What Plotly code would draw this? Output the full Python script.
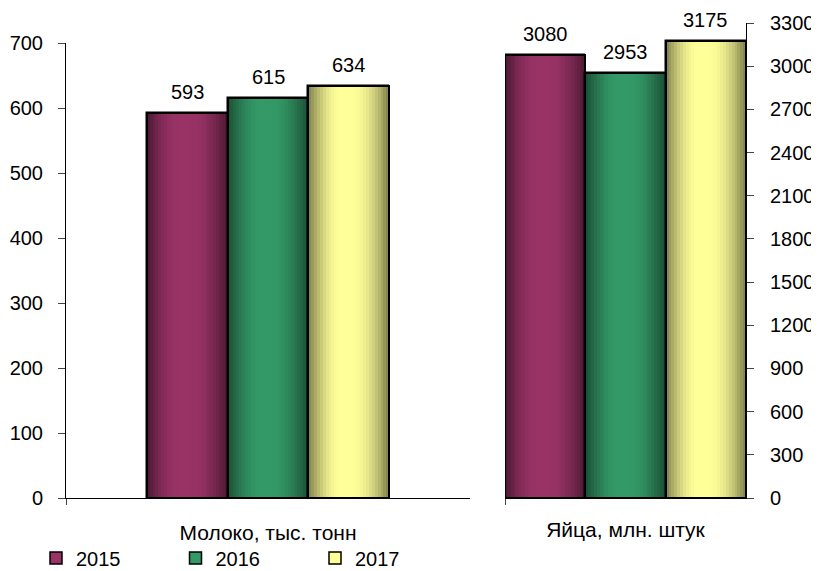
import math
import plotly.graph_objects as go

# ---- data ----
years = ["2015", "2016", "2017"]
categories = ["Молоко, тыс. тонн", "Яйца, млн. штук"]
milk = [593, 615, 634]
eggs = [3080, 2953, 3175]
left_ticks = [0, 100, 200, 300, 400, 500, 600, 700]
right_ticks = [0, 300, 600, 900, 1200, 1500, 1800, 2100, 2400, 2700, 3000, 3300]
base_colors = ["#993366", "#339966", "#FFFF99"]

# page body has an 8px margin; work in window pixels and offset
OFF = 8
W, H = 819 - OFF, 571 - OFF
FONT = "Arial, 'Liberation Sans', sans-serif"
N = 28  # strips for gradient shading


def px(x):
    return (x - OFF) / W


def py(y):
    return (H - (y - OFF)) / H


def hex_rgb(h):
    h = h.lstrip("#")
    return [int(h[i:i + 2], 16) for i in (0, 2, 4)]


def shade(t):
    if t < 0.40:
        return 0.5 + 0.5 * math.sin(math.pi / 2 * t / 0.40)
    if t < 0.55:
        return 1.0
    return 0.5 + 0.5 * math.cos(math.pi / 2 * (t - 0.55) / 0.45)


def strip_colors(hexc):
    r, g, b = hex_rgb(hexc)
    out = []
    for i in range(N):
        f = shade((i + 0.5) / N)
        out.append(f"rgb({int(r*f)},{int(g*f)},{int(b*f)})")
    return out


panels = [
    dict(cat=categories[0], vals=milk, xa="x", ya="y", bw=0.2, start=-0.3, idx=0),
    dict(cat=categories[1], vals=eggs, xa="x2", ya="y2", bw=1 / 3, start=-0.5, idx=1),
]

fig = go.Figure()
annotations = []
for p in panels:
    for j, (yr, v) in enumerate(zip(years, p["vals"])):
        off = p["start"] + j * p["bw"]
        bw = p["bw"]
        # base bar (legend entry)
        fig.add_trace(go.Bar(
            x=[p["cat"]], y=[v], width=[bw], offset=[off],
            xaxis=p["xa"], yaxis=p["ya"], name=yr, legendgroup=yr,
            showlegend=(p["idx"] == 0),
            marker=dict(color=base_colors[j], line=dict(color="black", width=1.5)),
            hoverinfo="skip",
        ))
        # gradient strips
        sw = bw / N
        fig.add_trace(go.Bar(
            x=[p["cat"]] * N, y=[v] * N,
            width=[sw * 1.08] * N,
            offset=[off + i * sw for i in range(N)],
            xaxis=p["xa"], yaxis=p["ya"], legendgroup=yr, showlegend=False,
            marker=dict(color=strip_colors(base_colors[j]), line=dict(width=0)),
            hoverinfo="skip",
        ))
        # outline
        fig.add_trace(go.Bar(
            x=[p["cat"]], y=[v], width=[bw], offset=[off],
            xaxis=p["xa"], yaxis=p["ya"], legendgroup=yr, showlegend=False,
            marker=dict(color="rgba(0,0,0,0)", line=dict(color="black", width=2)),
            hovertemplate=f"{yr}: %{{y}}<extra></extra>",
        ))
        annotations.append(dict(
            x=off + bw / 2, y=v,
            xref=p["xa"], yref=p["ya"], text=str(v), showarrow=False,
            yanchor="bottom", yshift=9, borderpad=0,
            font=dict(size=20, color="black", family=FONT),
        ))

axis_common = dict(
    showline=True, linecolor="black", linewidth=1, ticks="outside",
    tickcolor="#444", ticklen=7, showgrid=False, zeroline=False, automargin=False,
    tickfont=dict(size=20, color="black", family=FONT), fixedrange=True,
)

y_bottom = py(498)
fig.update_layout(
    width=W, height=H, autosize=False,
    margin=dict(l=0, r=0, t=0, b=0, autoexpand=False),
    paper_bgcolor="white", plot_bgcolor="white",
    barmode="overlay", bargap=0,
    font=dict(family=FONT, size=20, color="black"),
    xaxis=dict(axis_common, type="category", domain=[px(66), px(470)], range=[-0.5, 0.5],
               anchor="y", tickson="boundaries", ticklen=6, ticklabelstandoff=16,
               tickfont=dict(size=21, color="black", family=FONT)),
    yaxis=dict(axis_common, domain=[y_bottom, py(43)], range=[0, 700],
               tickvals=left_ticks, anchor="x", ticklabelstandoff=11),
    xaxis2=dict(axis_common, type="category", domain=[px(505), px(746)], range=[-0.5, 0.5],
                anchor="y2", tickson="boundaries", ticklen=6, ticklabelstandoff=13,
                tickfont=dict(size=21, color="black", family=FONT)),
    yaxis2=dict(axis_common, domain=[y_bottom, py(23)], range=[0, 3300],
                tickvals=right_ticks, anchor="x2", side="right", ticklabelstandoff=12),
    legend=dict(orientation="h", x=px(36), y=py(558), xanchor="left", yanchor="middle",
                entrywidth=94.5, entrywidthmode="pixels", itemwidth=30,
                font=dict(size=20, color="black", family=FONT), bgcolor="rgba(0,0,0,0)"),
    annotations=annotations,
)

fig.write_html("out.html")
